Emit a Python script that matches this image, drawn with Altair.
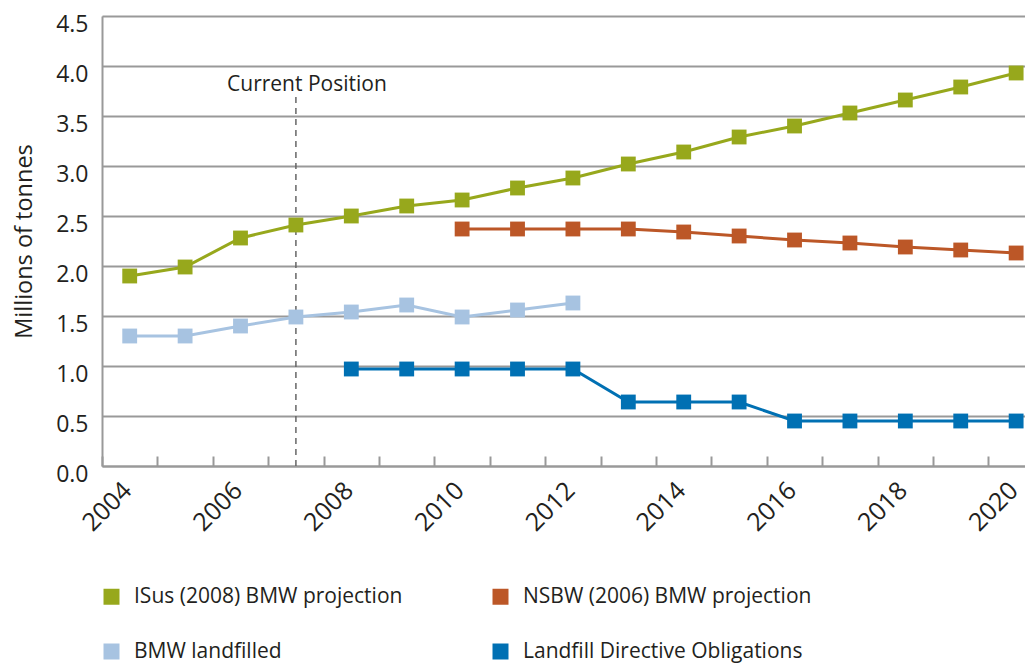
import altair as alt
import pandas as pd

# ---- data ----
series_names = [
    "ISus (2008) BMW projection",
    "NSBW (2006) BMW projection",
    "BMW landfilled",
    "Landfill Directive Obligations",
]
series_colors = ["#97A81C", "#BC5727", "#A7C3E1", "#0070B3"]

isus_years = list(range(2004, 2021))
isus_values = [1.90, 1.99, 2.28, 2.41, 2.50, 2.60, 2.66, 2.78, 2.88, 3.02,
               3.14, 3.29, 3.40, 3.53, 3.66, 3.79, 3.93]

nsbw_years = list(range(2010, 2021))
nsbw_values = [2.37, 2.37, 2.37, 2.37, 2.34, 2.30, 2.26, 2.23, 2.19, 2.16, 2.13]

landfilled_years = list(range(2004, 2013))
landfilled_values = [1.30, 1.30, 1.40, 1.49, 1.54, 1.61, 1.49, 1.56, 1.63]

ldo_years = list(range(2008, 2021))
ldo_values = [0.97, 0.97, 0.97, 0.97, 0.97, 0.64, 0.64, 0.64,
              0.45, 0.45, 0.45, 0.45, 0.45]

# x-axis: ticks on the category boundaries (year - 0.5); labels for even years
tick_boundaries = [y - 0.5 for y in range(2004, 2021)]
y_ticks = [0, 0.5, 1, 1.5, 2, 2.5, 3, 3.5, 4, 4.5]

# annotation
marker_year = [2007]
marker_top = [3.69]
marker_label = ["Current Position"]

FONT = "Open Sans"
TEXT = "#231F20"
GRID = "#999999"

rows = []
for name, yrs, vals in [
    (series_names[0], isus_years, isus_values),
    (series_names[1], nsbw_years, nsbw_values),
    (series_names[2], landfilled_years, landfilled_values),
    (series_names[3], ldo_years, ldo_values),
]:
    for y, v in zip(yrs, vals):
        rows.append({"year": y, "value": v, "series": name})
df = pd.DataFrame(rows)

ann = pd.DataFrame({"year": marker_year, "top": marker_top,
                    "bottom": [0] * len(marker_year), "label": marker_label})

x_scale = alt.Scale(domain=[2003.5, 2020.16], nice=False, zero=False)
y_scale = alt.Scale(domain=[0, 4.5], nice=False)
color_scale = alt.Scale(domain=series_names, range=series_colors)

x_axis = alt.Axis(
    values=tick_boundaries,
    labelExpr="(datum.value + 0.5) % 2 === 0 ? format(datum.value + 0.5, 'd') : ''",
    labelAngle=-45,
    labelAlign="right",
    labelBaseline="middle",
    labelFont=FONT,
    labelFontSize=25,
    labelColor=TEXT,
    labelPadding=30,
    labelOffset=25,
    labelOverlap=False,
    labelBound=False,
    labelFlush=False,
    tickSize={"expr": "-10"},
    tickColor=GRID,
    tickWidth=2,
    domainColor=GRID,
    domainWidth=2,
    grid=False,
    title=None,
)

y_axis = alt.Axis(
    values=y_ticks,
    format=".1f",
    labelFont=FONT,
    labelFontSize=23,
    labelColor=TEXT,
    labelPadding=14,
    labelOffset=8,
    labelOverlap=False,
    labelFlush=False,
    ticks=False,
    domainColor=GRID,
    domainWidth=2,
    grid=True,
    gridColor=GRID,
    gridWidth=2,
    title="Millions of tonnes",
    titleFont=FONT,
    titleFontSize=23.5,
    titleFontWeight="normal",
    titleColor=TEXT,
    titlePadding=19,
)

legend = alt.Legend(
    title=None,
    orient="none",
    direction="horizontal",
    legendX=-1,
    legendY=570,
    columns=2,
    columnPadding=87,
    rowPadding=33,
    symbolType="square",
    symbolSize=256,
    symbolStrokeWidth=0,
    labelFont=FONT,
    labelFontSize=21,
    labelColor=TEXT,
    labelOffset=12,
    labelLimit=400,
    padding=0,
)

X = alt.X("year:Q", scale=x_scale, axis=x_axis)
Y = alt.Y("value:Q", scale=y_scale, axis=y_axis)
C = alt.Color("series:N", scale=color_scale, sort=series_names, legend=legend)

base = alt.Chart(df)

lines = base.mark_line(strokeWidth=3).encode(x=X, y=Y, color=C, detail="series:N")
points = base.mark_square(size=220, opacity=1).encode(x=X, y=Y, color=C)

rule = alt.Chart(ann).mark_rule(color="#666666", strokeWidth=1.5, strokeDash=[6, 5]).encode(
    x=X,
    y=alt.Y("top:Q", scale=y_scale, axis=y_axis),
    y2="bottom:Q",
)

label = alt.Chart(ann).mark_text(
    font=FONT, fontSize=21, color=TEXT, align="center", baseline="alphabetic", dx=11, dy=-6
).encode(
    x=X,
    y=alt.Y("top:Q", scale=y_scale, axis=y_axis),
    text="label:N",
)

chart = alt.layer(rule, lines, points, label).properties(
    width=923,
    height=450,
    autosize=alt.AutoSizeParams(type="none"),
    padding={"left": 94, "top": 8, "right": 0, "bottom": 198},
).configure_view(stroke=None).configure(background="white")

chart.save("out.html", embed_options={"renderer": "svg", "actions": False})
